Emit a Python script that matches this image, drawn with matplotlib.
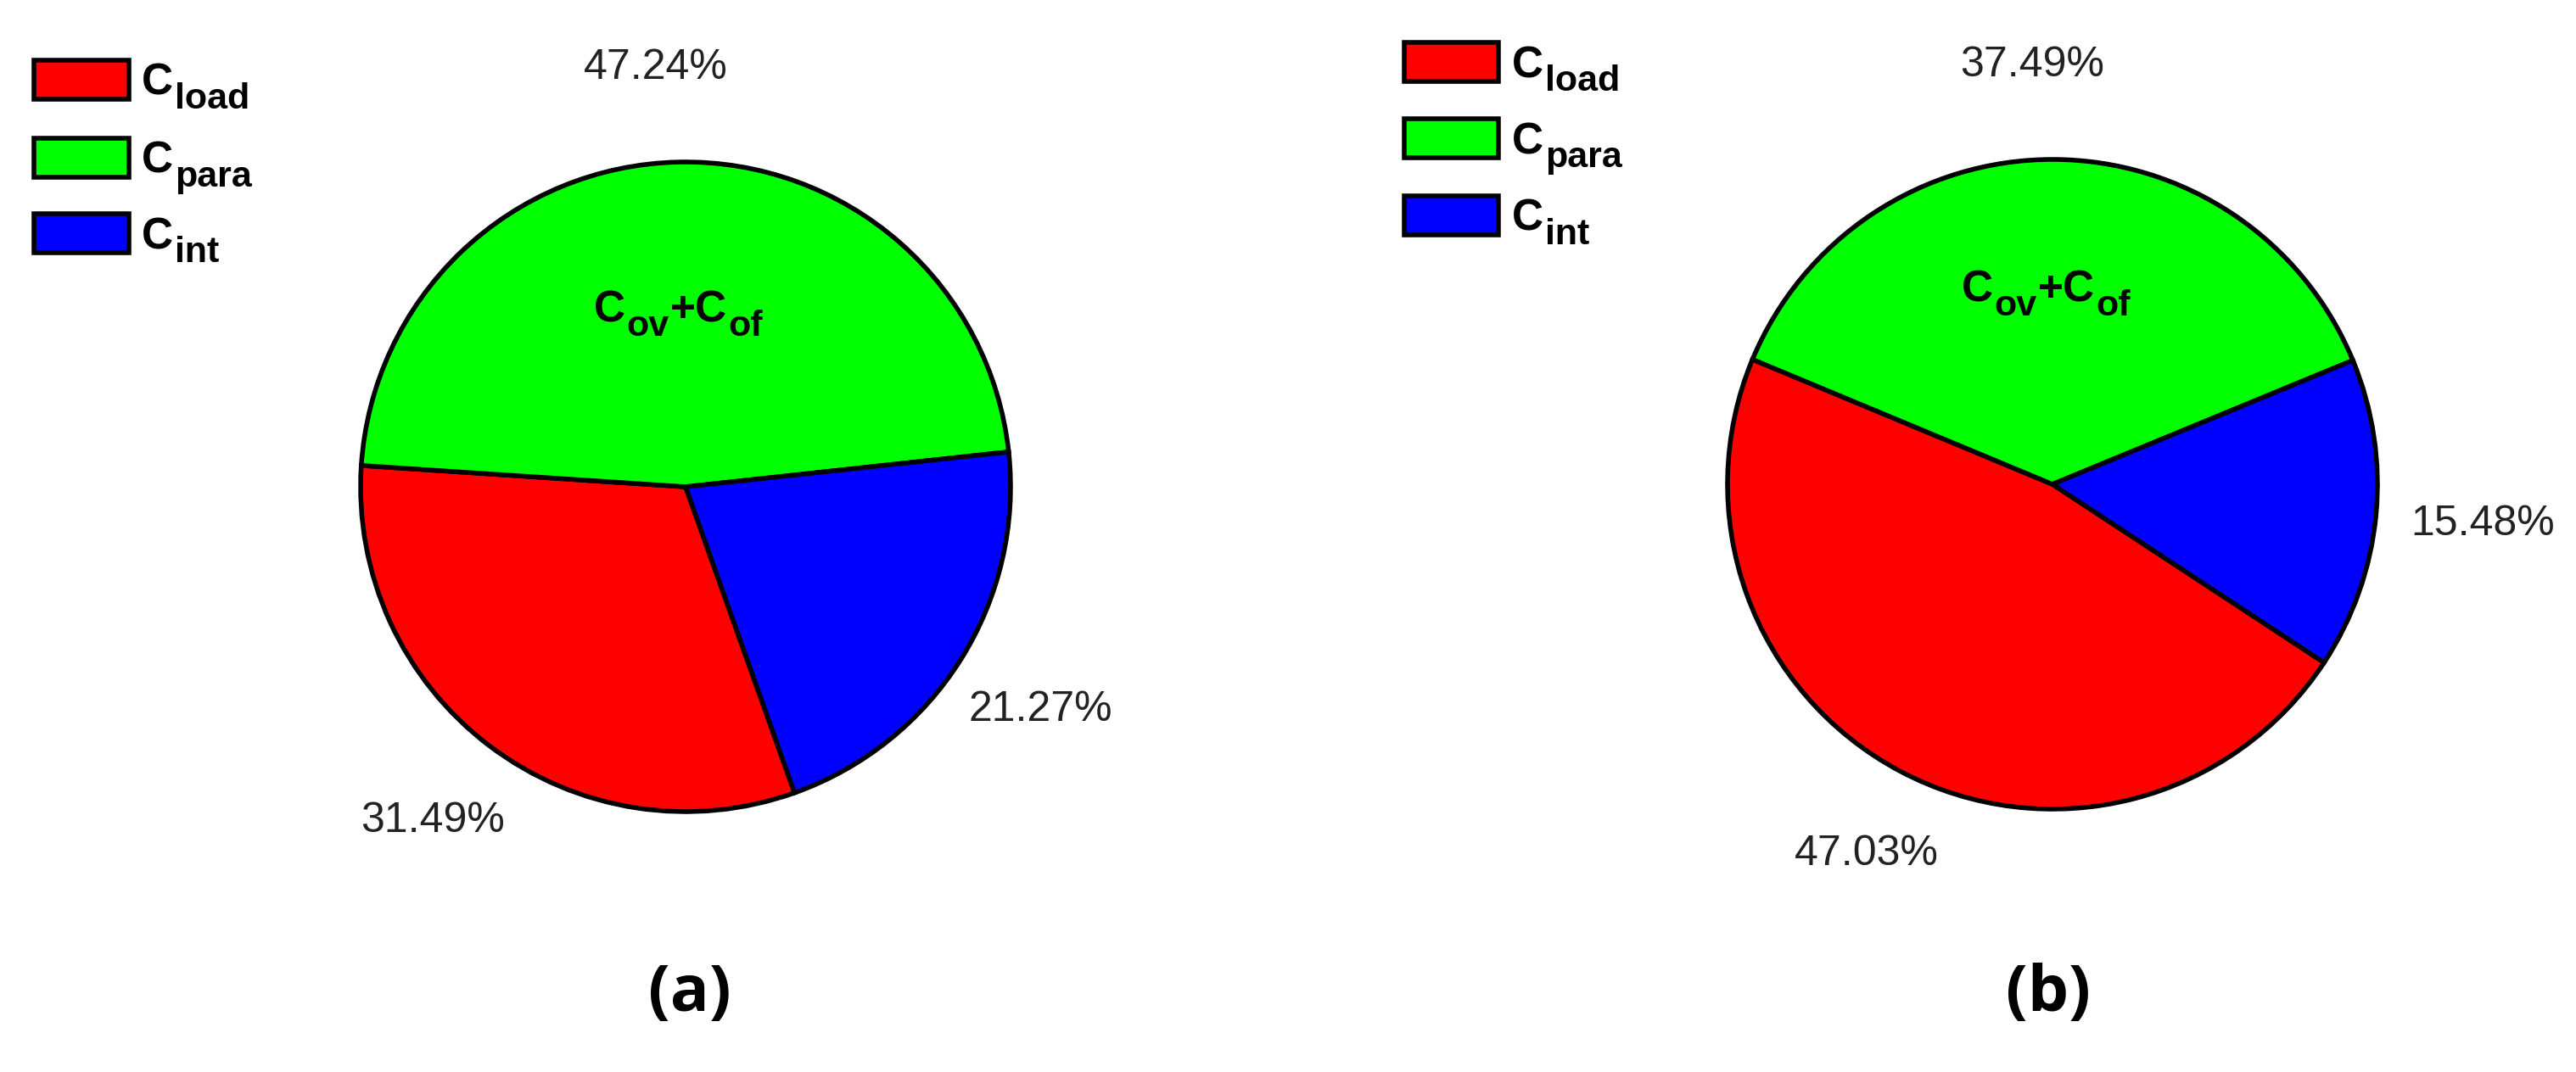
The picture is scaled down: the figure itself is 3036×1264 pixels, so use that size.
import matplotlib
matplotlib.use("Agg")
import matplotlib.pyplot as plt
from matplotlib.patches import Rectangle
from matplotlib.transforms import IdentityTransform, offset_copy

# ---- data ----
series_names = ["load", "para", "int"]          # subscripts of C
values_a = [31.49, 47.24, 21.27]
values_b = [47.03, 37.49, 15.48]
panel_labels = ["(a)", "(b)"]
inner_label = [("C", False), ("ov", True), ("+C", False), ("of", True)]
colors = ["#ff0000", "#00ff00", "#0000ff"]

W, H = 3036, 1264
DPI = 100
fig = plt.figure(figsize=(W / DPI, H / DPI), dpi=DPI)
fig.patch.set_facecolor("white")
renderer = fig.canvas.get_renderer()
PX = IdentityTransform()

MAIN_FONT = "Liberation Sans"


def draw_segments(x, y_base, segments, size=37, sub_size=31, sub_drop=16,
                  ha="left"):
    """Draw text with subscripts; x,y in pixel coords from top-left."""
    texts = []
    cx = x
    yb = H - y_base
    for s, sub in segments:
        t = fig.text(cx, yb - (sub_drop if sub else 0), s, transform=PX,
                     fontsize=sub_size if sub else size, fontweight="bold",
                     family=MAIN_FONT, ha="left", va="baseline", color="black")
        w = t.get_window_extent(renderer).width
        texts.append(t)
        cx += w + (1 if sub else 2)
    total = cx - x
    if ha == "center":
        for t in texts:
            px, py = t.get_position()
            t.set_position((px - total / 2, py))
    return texts


def draw_legend(x0, x1, x_text, rows_y, half_h):
    for name, col, yc in zip(series_names, colors, rows_y):
        fig.patches.append(Rectangle((x0, H - yc - half_h), x1 - x0, 2 * half_h,
                                     transform=PX, facecolor=col,
                                     edgecolor="black", linewidth=4.0))
        draw_segments(x_text, yc + 18, [("C", False), (name, True)])


def draw_pie(cx, cy, r, values, startangle, label_dx):
    ax = fig.add_axes([(cx - r) / W, (H - cy - r) / H, 2 * r / W, 2 * r / H])
    wedges, _, autotexts = ax.pie(
        values, colors=colors, startangle=startangle, counterclock=False,
        autopct="%.2f%%", pctdistance=1.29,
        wedgeprops=dict(edgecolor="black", linewidth=4.0),
        textprops=dict(fontsize=36, family=MAIN_FONT, color="#222222"))
    for w in wedges:
        w.set_clip_on(False)
    for t, dx in zip(autotexts, label_dx):
        t.set_transform(offset_copy(ax.transData, fig=fig, x=dx, y=0,
                                    units="dots"))
    ax.set_xlim(-1, 1)
    ax.set_ylim(-1, 1)
    ax.set_aspect("equal")
    ax.axis("off")
    return ax


R = 383
draw_pie(808, 574, R, values_a, startangle=-70.4, label_dx=[0, -25, 0])
draw_pie(2419, 571, R, values_b, startangle=-33.3, label_dx=[12, -25, 15])

draw_legend(40, 152, 167, [94, 186, 275], 23)
draw_legend(1655, 1766, 1782, [73, 163, 254], 23)

draw_segments(800, 380, inner_label, ha="center")
draw_segments(2412, 356, inner_label, ha="center")

fig.text(813 / W, 1 - 1172 / H, panel_labels[0], fontsize=55, fontweight="bold",
         family="Open Sans", ha="center", va="center")
fig.text(2414 / W, 1 - 1172 / H, panel_labels[1], fontsize=55, fontweight="bold",
         family="Open Sans", ha="center", va="center")

fig.savefig("out.png", dpi=DPI, facecolor="white")
